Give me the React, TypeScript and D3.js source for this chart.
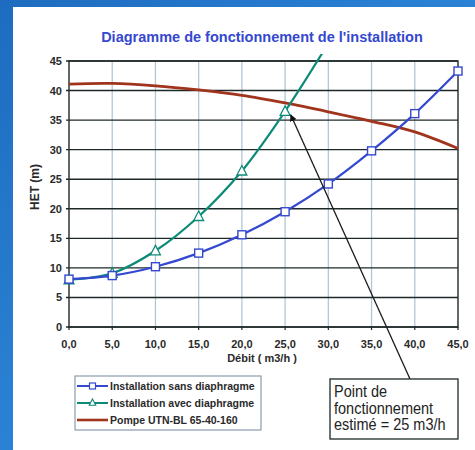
import React from "react";
import * as d3 from "d3";

const debit = [0, 5, 10, 15, 20, 25, 30, 35, 40, 45];
const sansDiaphragme = [8.1, 8.7, 10.2, 12.5, 15.6, 19.5, 24.2, 29.8, 36.1, 43.3];
const avecDebit = [0, 5, 10, 15, 20, 25, 30];
const avecDiaphragme = [8.0, 9.1, 12.9, 18.7, 26.4, 36.5, 48.0];
const pompe = [41.1, 41.2, 40.8, 40.1, 39.2, 37.9, 36.4, 34.8, 33.0, 30.2];
const xTicks = [0, 5, 10, 15, 20, 25, 30, 35, 40, 45];
const yTicks = [0, 5, 10, 15, 20, 25, 30, 35, 40, 45];
const title = "Diagramme de fonctionnement de l'installation";
const xLabel = "Débit ( m3/h )";
const yLabel = "HET (m)";
const legendLabels = ["Installation sans diaphragme", "Installation avec diaphragme", "Pompe UTN-BL 65-40-160"];
const noteLines = ["Point de", "fonctionnement", "estimé = 25 m3/h"];
const operatingPoint = { x: 25.3, y: 36.4 };

const BLUE = "#3448d0";
const GREEN = "#0e8a78";
const RED = "#a0341c";
const FONT = "'Liberation Sans', Arial, sans-serif";

export default function App() {
  const x = d3.scaleLinear().domain([0, 45]).range([69, 458]);
  const y = d3.scaleLinear().domain([0, 45]).range([327, 61]);
  const line = d3
    .line<[number, number]>()
    .x((d) => x(d[0]))
    .y((d) => y(d[1]))
    .curve(d3.curveCatmullRom.alpha(0.5));
  const sansPts = debit.map((d, i) => [d, sansDiaphragme[i]] as [number, number]);
  const avecPts = avecDebit.map((d, i) => [d, avecDiaphragme[i]] as [number, number]);
  const pompePts = debit.map((d, i) => [d, pompe[i]] as [number, number]);
  const fmt = (v: number) => d3.format(".1f")(v).replace(".", ",");
  const tri = (cx: number, cy: number, s: number) =>
    `M${cx},${cy - s * 0.6}L${cx + s * 0.55},${cy + s * 0.45}L${cx - s * 0.55},${cy + s * 0.45}Z`;

  const legendY = [386, 403, 420];
  const arrowStart = { x: 410, y: 379 };

  return (
    <svg
      width={475}
      height={450}
      style={{ position: "fixed", left: 0, top: 0 }}
      fontFamily={FONT}
    >
      <defs>
        <linearGradient id="bg" x1="0" y1="0" x2="1" y2="1">
          <stop offset="0" stopColor="#1d6cc0" />
          <stop offset="0.5" stopColor="#2b82d4" />
          <stop offset="1" stopColor="#1a64b8" />
        </linearGradient>
        <clipPath id="plotClip">
          <rect x={60} y={y(46.2)} width={410} height={y(-2) - y(46.2)} />
        </clipPath>
        <marker id="arrow" viewBox="0 0 10 10" refX="9" refY="5" markerWidth="7" markerHeight="7" orient="auto-start-reverse" markerUnits="userSpaceOnUse">
          <path d="M0,0L10,5L0,10Z" fill="#111" />
        </marker>
      </defs>
      <rect x={0} y={0} width={475} height={450} fill="url(#bg)" />
      <rect x={13} y={7} width={462} height={443} fill="#ffffff" />

      <text x={262} y={42} textAnchor="middle" fontSize={14.5} fontWeight="bold" fill={BLUE}>
        {title}
      </text>

      {xTicks.slice(1, -1).map((t) => (
        <line key={"vx" + t} x1={x(t)} x2={x(t)} y1={y(45)} y2={y(0)} stroke="#b4c6d6" strokeWidth={1.3} />
      ))}
      {yTicks.map((t) => (
        <line key={"hy" + t} x1={x(0) - 3} x2={x(45)} y1={y(t)} y2={y(t)} stroke="#1e2828" strokeWidth={1.4} />
      ))}
      {xTicks.map((t) => (
        <line key={"tx" + t} x1={x(t)} x2={x(t)} y1={y(0)} y2={y(0) + 3} stroke="#1e2828" strokeWidth={1.2} />
      ))}
      <rect x={x(0)} y={y(45)} width={x(45) - x(0)} height={y(0) - y(45)} fill="none" stroke="#1e2828" strokeWidth={1.4} />

      {yTicks.map((t) => (
        <text key={"ly" + t} x={62} y={y(t) + 4} textAnchor="end" fontSize={11} fontWeight="bold" fill="#2a2a2a">
          {t}
        </text>
      ))}
      {xTicks.map((t) => (
        <text key={"lx" + t} x={x(t)} y={348} textAnchor="middle" fontSize={11} fontWeight="bold" fill="#2a2a2a">
          {fmt(t)}
        </text>
      ))}
      <text x={262} y={362} textAnchor="middle" fontSize={11} fontWeight="bold" fill="#2a2a2a">
        {xLabel}
      </text>
      <text transform={`translate(39,187) rotate(-90)`} textAnchor="middle" fontSize={12} fontWeight="bold" fill="#2a2a2a">
        {yLabel}
      </text>

      <path d={line(pompePts) || ""} fill="none" stroke={RED} strokeWidth={2.8} />

      <g clipPath="url(#plotClip)">
        <path d={line(avecPts) || ""} fill="none" stroke={GREEN} strokeWidth={2.2} />
        {avecPts.map((p, i) => (
          <path key={"ta" + i} d={tri(x(p[0]), y(p[1]), 9)} fill="#ffffff" stroke={GREEN} strokeWidth={1.3} />
        ))}
      </g>

      <path d={line(sansPts) || ""} fill="none" stroke={BLUE} strokeWidth={2.2} />
      {sansPts.map((p, i) => (
        <rect key={"sq" + i} x={x(p[0]) - 4} y={y(p[1]) - 4} width={8} height={8} fill="#ffffff" stroke={BLUE} strokeWidth={1.4} />
      ))}

      <line
        x1={arrowStart.x}
        y1={arrowStart.y}
        x2={x(operatingPoint.x) + 3}
        y2={y(operatingPoint.y) + 3}
        stroke="#1a1a1a"
        strokeWidth={1.3}
        markerEnd="url(#arrow)"
      />

      <rect x={75} y={376} width={186} height={54} fill="#ffffff" stroke="#8a9cac" strokeWidth={1.2} />
      {legendLabels.map((lab, i) => {
        const col = [BLUE, GREEN, RED][i];
        const ly = legendY[i];
        return (
          <g key={"lg" + i}>
            <line x1={77} x2={108} y1={ly} y2={ly} stroke={col} strokeWidth={i === 2 ? 2.6 : 2} />
            {i === 0 && <rect x={89.5} y={ly - 3} width={6} height={6} fill="#fff" stroke={col} strokeWidth={1.2} />}
            {i === 1 && <path d={tri(92.5, ly - 0.5, 6)} fill="#fff" stroke={col} strokeWidth={1.1} />}
            <text x={110} y={ly + 3.8} fontSize={10.5} fontWeight="bold" fill="#2a2a2a">
              {lab}
            </text>
          </g>
        );
      })}

      <rect x={330} y={379} width={128} height={60} fill="#ffffff" stroke="#1e2828" strokeWidth={1.3} />
      {noteLines.map((t, i) => (
        <text
          key={"nt" + i}
          transform={`translate(334,${397 + i * 16.5}) scale(1,1.1)`}
          fontSize={14.5}
          fill="#1e2424"
        >
          {t}
        </text>
      ))}
    </svg>
  );
}
